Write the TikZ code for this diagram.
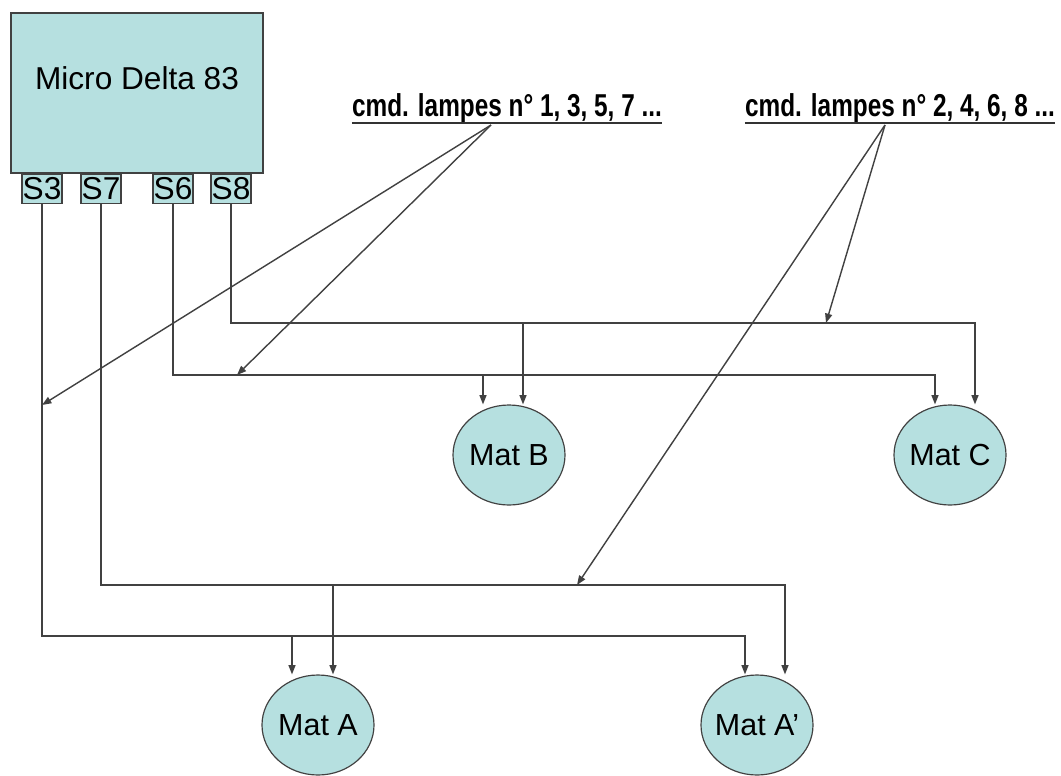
\documentclass[tikz,border=0pt]{standalone}
\usepackage{fontspec}
\setmainfont{Liberation Sans}
\newfontfamily\cmdfont[FakeStretch=0.77]{Liberation Sans}
\usetikzlibrary{shapes.geometric,arrows.meta}

\definecolor{matfill}{RGB}{182,224,224}
\definecolor{wiregray}{RGB}{65,65,65}

\tikzset{
  wire/.style={draw=wiregray,line width=1.2pt},
  tip/.style={-{Triangle[length=8pt,width=6pt]}},
}

\begin{document}
\begin{tikzpicture}[x=0.03cm,y=-0.03cm]
        \useasboundingbox[fill=white] (0,0) rectangle (1061,775);

        \begin{scope}[every node/.style={draw=wiregray,fill=matfill,line width=1pt}]
          \node[minimum width=7.56cm,minimum height=4.8cm,text depth=0.9cm,
                font=\fontsize{27}{30}\selectfont] (mcu) at (137,93) {Micro Delta 83};
        \end{scope}

        \begin{scope}[every node/.style={draw=wiregray,fill=matfill,line width=1pt,
              minimum width=1.2cm,minimum height=0.85cm,inner sep=0pt,
              font=\fontsize{27}{30}\selectfont}]
          \node (s3) at (42,189)  {S3};
          \node (s7) at (101,189) {S7};
          \node (s6) at (173,189) {S6};
          \node (s8) at (231,189) {S8};
        \end{scope}

        \begin{scope}[every node/.style={ellipse,draw=wiregray,fill=matfill,line width=1pt,
              inner xsep=-0.25cm,minimum width=3.36cm,minimum height=3cm,
              font=\fontsize{26}{29}\selectfont}]
          \node (matB)  at (509,455) {Mat B};
          \node (matC)  at (950,455) {Mat C};
          \node (matA)  at (318,725) {Mat A};
          \node (matAp) at (757,725) {Mat A'};
        \end{scope}

        \begin{scope}[every node/.style={anchor=base,inner sep=0pt,
              font=\cmdfont\bfseries\fontsize{27}{30}\selectfont}]
          \node (cmdodd)  at (507,116) {cmd. lampes n° 1, 3, 5, 7 ...};
          \node (cmdeven) at (900,116) {cmd. lampes n° 2, 4, 6, 8 ...};
        \end{scope}

        \draw[line width=1.5pt,black!80] ([yshift=-0.2cm]cmdodd.base west) -- ([yshift=-0.2cm]cmdodd.base east);
        \draw[line width=1.5pt,black!80] ([yshift=-0.2cm]cmdeven.base west) -- ([yshift=-0.2cm]cmdeven.base east);

        % bus junctions
        \coordinate (j8) at (523,323);
        \coordinate (j6) at (483,375);
        \coordinate (j7) at (333,585);
        \coordinate (j3) at (292,636);

        \draw[wire,tip] (s8.south) |- (j8) -| ([xshift=0.75cm]matC.north);
        \draw[wire,tip] (j8) -- (j8 |- matB.north);
        \draw[wire,tip] (s6.south) |- (j6) -| ([xshift=-0.45cm]matC.north);
        \draw[wire,tip] (j6) -- (j6 |- matB.north);
        \draw[wire,tip] (s7.south) |- (j7) -| ([xshift=0.84cm]matAp.north);
        \draw[wire,tip] (j7) -- (j7 |- matA.north);
        \draw[wire,tip] (s3.south) |- (j3) -| ([xshift=-0.36cm]matAp.north);
        \draw[wire,tip] (j3) -- (j3 |- matA.north);

        % commands
        \coordinate (oddsrc)  at (491,125);
        \coordinate (evensrc) at (885,125);
        \coordinate (h3) at (42,405);
        \coordinate (h6) at (237,375);
        \coordinate (h8) at (826,323);
        \coordinate (h7) at (577,585);

        \draw[wire,tip] (oddsrc) -- (h3);
        \draw[wire,tip] (oddsrc) -- (h6);
        \draw[wire,tip] (evensrc) -- (h8);
        \draw[wire,tip] (evensrc) -- (h7);

      \end{tikzpicture}
\end{document}
